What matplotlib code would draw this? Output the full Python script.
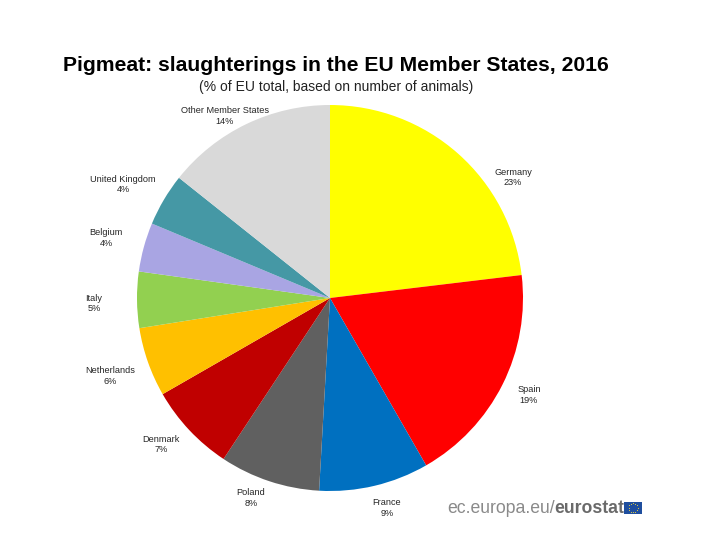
import numpy as np
import matplotlib
matplotlib.use("Agg")
import matplotlib.pyplot as plt
from matplotlib.patches import Rectangle

categories = ["Germany", "Spain", "France", "Poland", "Denmark", "Netherlands",
              "Italy", "Belgium", "United Kingdom", "Other Member States"]
values = [23, 19, 9, 8, 7, 6, 5, 4, 4, 14]
shares = [23.1, 18.6, 9.2, 8.4, 7.4, 5.8, 4.7, 4.1, 4.4, 14.3]
colors = ["#FFFF00", "#FF0000", "#0070C0", "#606060", "#C00000", "#FFC000",
          "#92D050", "#A9A5E3", "#4598A5", "#D9D9D9"]
W, H = 713, 547
plt.rcParams['font.family'] = ['Liberation Sans', 'DejaVu Sans']
fig = plt.figure(figsize=(W/100, H/100), dpi=100, facecolor="white")
cx, cy, r = 330, 298, 193
ax = fig.add_axes([(cx-r)/W, 1-(cy+r)/H, 2*r/W, 2*r/H])
wedges, _ = ax.pie(shares, colors=colors, startangle=90, counterclock=False, radius=1)
ax.set_xlim(-1, 1); ax.set_ylim(-1, 1); ax.set_aspect("equal")
label_px = [(513,177.5),(529,395),(387,508),(251,498),(161,444.5),(110,376),(94,303.5),(106,238),(123,184.5),(225,116)]
for c, v, (x, y) in zip(categories, values, label_px):
    fig.text(x/W, 1-y/H, f"{c}\n{v}%", ha="center", va="center", fontsize=6.6, color="#262626", linespacing=1.15)
fig.text(336/W, 1-65.5/H, "Pigmeat: slaughterings in the EU Member States, 2016", ha="center", va="center", fontsize=15.25, fontweight="bold", color="black")
fig.text(336/W, 1-87.5/H, "(% of EU total, based on number of animals)", ha="center", va="center", fontsize=10, color="#222222")
t1 = fig.text(447/W, 1-513/H, "ec.europa.eu/", ha="left", va="baseline", fontsize=12.7, color="#8a8a8a")
fig.canvas.draw()
bb = t1.get_window_extent()
fig.text(bb.x1/W, 1-513/H, "eurostat", ha="left", va="baseline", fontsize=12.7, fontweight="bold", color="#6a6a6a")
fig.add_artist(Rectangle((624/W, 1-514/H), 18/W, 12.5/H, transform=fig.transFigure, facecolor="#1F4E9E", edgecolor="none"))
ang = np.linspace(0, 2*np.pi, 12, endpoint=False)
fig.add_artist(plt.Line2D((633 + 4.5*np.cos(ang))/W, 1-(507.7 + 4.5*np.sin(ang))/H, transform=fig.transFigure,
                          linestyle="none", marker="o", markersize=0.8, color="#E8D040", markeredgewidth=0))
fig.savefig("out.png", dpi=100)
